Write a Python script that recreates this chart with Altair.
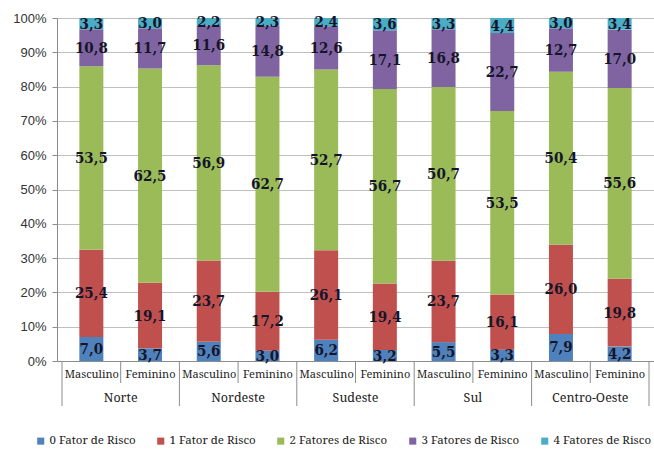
import altair as alt
import pandas as pd

regions = ["Norte", "Nordeste", "Sudeste", "Sul", "Centro-Oeste"]
sexes = ["Masculino", "Feminino"]
factors = ["0 Fator de Risco", "1 Fator de Risco", "2 Fatores de Risco",
           "3 Fatores de Risco", "4 Fatores de Risco"]
colors = ["#4F81BD", "#C0504D", "#9BBB59", "#8064A2", "#4BACC6"]

# one list per factor, in bar order: Norte M, Norte F, Nordeste M, ... Centro-Oeste F
f0 = [7.0, 3.7, 5.6, 3.0, 6.2, 3.2, 5.5, 3.3, 7.9, 4.2]
f1 = [25.4, 19.1, 23.7, 17.2, 26.1, 19.4, 23.7, 16.1, 26.0, 19.8]
f2 = [53.5, 62.5, 56.9, 62.7, 52.7, 56.7, 50.7, 53.5, 50.4, 55.6]
f3 = [10.8, 11.7, 11.6, 14.8, 12.6, 17.1, 16.8, 22.7, 12.7, 17.0]
f4 = [3.3, 3.0, 2.2, 2.3, 2.4, 3.6, 3.3, 4.4, 3.0, 3.4]
series = [f0, f1, f2, f3, f4]

SERIF_BOLD = "DejaVu Serif Condensed"
SERIF = "Noto Serif"

rows = []
for k, (fac, vals) in enumerate(zip(factors, series)):
    for i, v in enumerate(vals):
        rows.append({"idx": i, "region": regions[i // 2], "sex": sexes[i % 2],
                     "factor": fac, "order": k, "value": v,
                     "label": f"{v:.1f}".replace(".", ",")})
df = pd.DataFrame(rows)

n = len(f0)
W, H = 597, 343

# separators between bars (short) and between regions (long)
short_sep = pd.DataFrame({"x": [i - 0.5 for i in range(1, n + 1, 2)]})
long_sep = pd.DataFrame({"x": [i - 0.5 for i in range(0, n + 1, 2)]})
reg = pd.DataFrame([{"x": 2 * j + 0.5, "region": r} for j, r in enumerate(regions)])

xscale = alt.Scale(domain=[-0.5, n - 0.5], nice=False, zero=False)
yscale = alt.Scale(domain=[0, 100], nice=False)

xaxis = alt.Axis(values=list(range(n)), ticks=False, grid=False, title=None,
                 labelExpr="datum.value % 2 == 0 ? 'Masculino' : 'Feminino'",
                 labelFont=SERIF, labelFontSize=11,
                 labelColor="#222222", labelPadding=7,
                 domainColor="#8C8C8C", labelFlush=False, labelOverlap=False)
yaxis = alt.Axis(values=list(range(0, 101, 10)), labelExpr="datum.value + '%'",
                 title=None, labelFont="Liberation Sans", labelFontSize=13,
                 labelColor="#333333", gridColor="#BFBFBF",
                 tickColor="#8C8C8C", domainColor="#8C8C8C",
                 tickSize=5, labelPadding=6, labelOverlap=False)

base = alt.Chart(df)

bars = base.mark_bar(size=24).encode(
    x=alt.X("idx:Q", scale=xscale, axis=xaxis),
    y=alt.Y("value:Q", stack="zero", scale=yscale, axis=yaxis),
    color=alt.Color("factor:N", scale=alt.Scale(domain=factors, range=colors),
                    legend=alt.Legend(title=None, orient="none", direction="horizontal",
                                      legendX=-22, legendY=417,
                                      symbolType="square", symbolSize=50,
                                      symbolStrokeWidth=0,
                                      labelFont=SERIF, labelFontSize=11.5,
                                      labelColor="#222222", columnPadding=19,
                                      labelOffset=3)),
    order=alt.Order("order:Q", sort="ascending"),
)

labels = base.transform_stack(
    stack="value", as_=["y0", "y1"], groupby=["idx"], sort=[alt.SortField("order")]
).transform_calculate(mid="(datum.y0 + datum.y1) / 2").mark_text(
    font=SERIF_BOLD, fontSize=15, fontWeight="bold", color="#15152A"
).encode(
    x=alt.X("idx:Q", scale=xscale, axis=xaxis),
    y=alt.Y("mid:Q", scale=yscale, axis=yaxis),
    text="label:N",
)

seps_short = alt.Chart(short_sep).mark_rule(color="#8C8C8C", strokeWidth=1).encode(
    x=alt.X("x:Q", scale=xscale, axis=xaxis),
    y=alt.value(H),
    y2=alt.value(H + 22),
)
seps_long = alt.Chart(long_sep).mark_rule(color="#8C8C8C", strokeWidth=1).encode(
    x=alt.X("x:Q", scale=xscale, axis=xaxis),
    y=alt.value(H),
    y2=alt.value(H + 45),
)

reglabels = alt.Chart(reg).mark_text(
    font=SERIF, fontSize=12.5, color="#222222"
).encode(
    x=alt.X("x:Q", scale=xscale, axis=xaxis),
    y=alt.value(H + 37),
    text="region:N",
)

chart = alt.layer(bars, labels, seps_short, seps_long, reglabels).properties(
    width=W, height=H,
    autosize=alt.AutoSizeParams(type="none"),
    padding={"left": 57, "top": 18, "right": 0, "bottom": 89},
).configure_view(stroke=None)

chart.save("out.html", embed_options={"renderer": "svg", "actions": False})
